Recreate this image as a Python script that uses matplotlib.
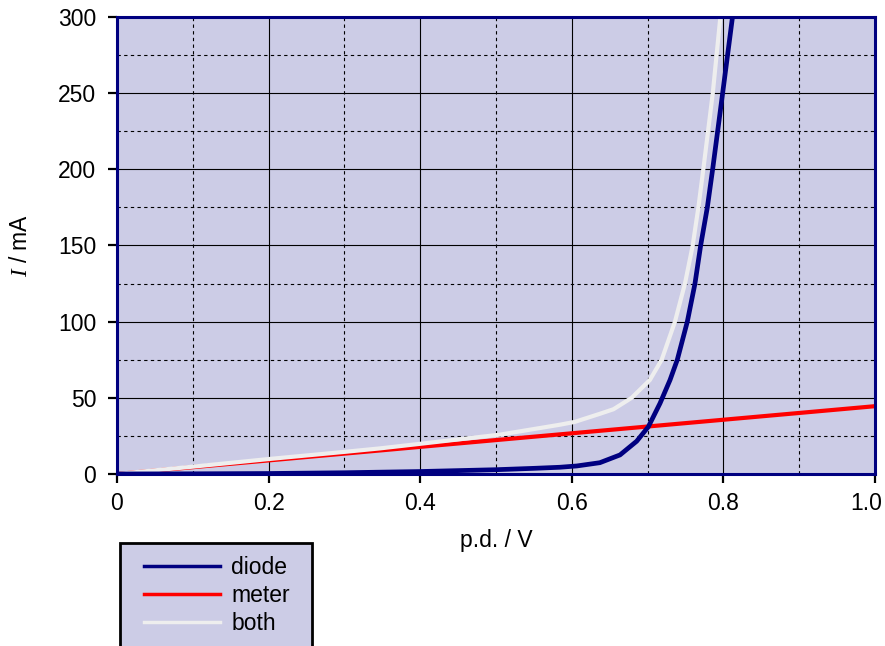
import matplotlib
matplotlib.use("Agg")
import matplotlib.pyplot as plt
import matplotlib.transforms as mtransforms
from matplotlib.lines import Line2D
from matplotlib.patches import Rectangle
from matplotlib.ticker import MultipleLocator

plt.rcParams["font.family"] = ["Liberation Sans", "DejaVu Sans"]
plt.rcParams["mathtext.fontset"] = "custom"
plt.rcParams["mathtext.it"] = "Liberation Serif:italic"

# values
diode_v = [0.0, 0.1, 0.2, 0.3, 0.4, 0.5, 0.55, 0.584, 0.6065, 0.637, 0.6636,
           0.6856, 0.701, 0.7164, 0.7296, 0.7392, 0.7524, 0.7625, 0.770, 0.7788,
           0.7858, 0.799, 0.812, 0.818]
diode_i = [0.0, 0.1, 0.3, 0.8, 1.6, 2.8, 3.7, 4.4, 5.25, 7.4, 12.5,
           21.5, 31, 46.4, 61.7, 75, 100, 125, 150, 175,
           200, 250, 300, 325]

meter_v = [0.0, 1.0]
meter_i = [0.0, 44.5]

both_v = [0.0, 0.1, 0.2, 0.3, 0.347, 0.4, 0.505, 0.584, 0.604, 0.637, 0.655,
          0.679, 0.703, 0.7186, 0.7361, 0.7493, 0.7595, 0.767, 0.7735, 0.786,
          0.796, 0.80]
both_i = [0.0, 4.8, 9.8, 14.5, 16.8, 19.8, 25.8, 32.3, 34.2, 39.5, 42.5,
          50, 61.7, 75, 100, 125, 150, 175, 200, 250,
          300, 320]

x_ticks = [0, 0.2, 0.4, 0.6, 0.8, 1.0]
x_labels = ["0", "0.2", "0.4", "0.6", "0.8", "1.0"]

NAVY = "#000080"
RED = "#ff0000"
LIGHT = "#eeeeee"
BG = "#ccccE6"
FS = 16.5

fig = plt.figure(figsize=(8.85, 6.46), dpi=100)
ax = fig.add_axes([0.1322, 0.2663, 0.8565, 0.7074])
ax.set_facecolor(BG)

ax.plot(meter_v, meter_i, color=RED, lw=3.0, solid_capstyle="butt", zorder=3)
ax.plot(both_v, both_i, color=LIGHT, lw=3.0, solid_capstyle="butt", zorder=4)
ax.plot(diode_v, diode_i, color=NAVY, lw=3.4, solid_capstyle="butt", zorder=5)

ax.set_xlim(0, 1.0)
ax.set_ylim(0, 300)
ax.set_xticks(x_ticks)
ax.set_xticklabels(x_labels)
ax.xaxis.set_minor_locator(MultipleLocator(0.1))
ax.yaxis.set_major_locator(MultipleLocator(50))
ax.yaxis.set_minor_locator(MultipleLocator(25))

ax.grid(True, which="major", color="black", lw=0.8, ls="-", zorder=1)
ax.grid(True, which="minor", color="black", lw=0.8, ls=(0, (3, 3)), zorder=1)
ax.set_axisbelow(True)

ax.tick_params(which="major", direction="out", length=6.5, width=1.6,
               color="black", labelsize=FS)
ax.tick_params(axis="x", pad=6.5)
ax.tick_params(axis="y", pad=8.5)
ax.tick_params(which="minor", length=0)
for s in ax.spines.values():
    s.set_color(NAVY)
    s.set_linewidth(2.2)
    s.set_zorder(6)

# last x label sits a little left of its tick, as in the reference
last = ax.get_xticklabels()[-1]
last.set_transform(last.get_transform() +
                   mtransforms.ScaledTranslation(-9 / 100, 0, fig.dpi_scale_trans))

ax.set_xlabel("p.d. / V", fontsize=FS, labelpad=10)
ax.set_ylabel(r"$I$ / mA", fontsize=FS, labelpad=19)

# legend box, running off the bottom edge as in the reference
box = Rectangle((0.1356, -0.05), 0.217, 0.2094, transform=fig.transFigure,
                facecolor=BG, edgecolor="black", lw=2.0, clip_on=False)
fig.patches.append(box)
handles = [Line2D([0], [0], color=NAVY, lw=2.5),
           Line2D([0], [0], color=RED, lw=2.5),
           Line2D([0], [0], color=LIGHT, lw=2.5)]
fig.legend(handles, ["diode", "meter", "both"], loc="upper left",
           bbox_to_anchor=(0.1627, 0.140), frameon=False, fontsize=FS,
           handlelength=3.3, handletextpad=0.5, labelspacing=0.23,
           borderpad=0.0, borderaxespad=0.0)

fig.savefig("out.png", dpi=100)
